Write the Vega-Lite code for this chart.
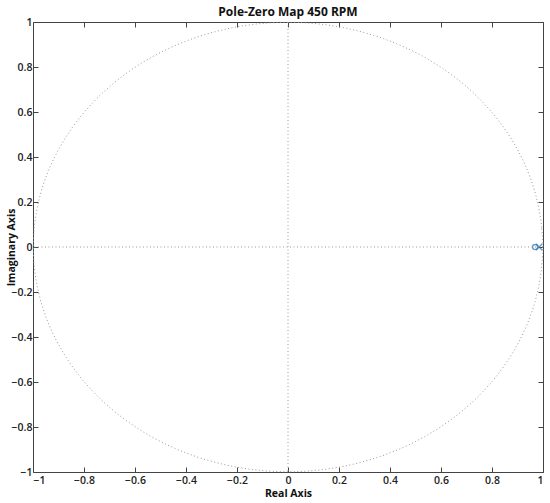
{
  "$schema": "https://vega.github.io/schema/vega-lite/v6.json",
  "width": 510,
  "height": 450,
  "autosize": {"type": "none"},
  "padding": {"left": 33, "top": 22, "right": 7, "bottom": 31},
  "background": "white",
  "title": {"text": "Pole-Zero Map 450 RPM", "font": "Open Sans", "fontSize": 12, "fontWeight": "bold", "color": "#111", "offset": -2},
  "config": {
    "view": {"stroke": "#444", "strokeWidth": 1},
    "axis": {"grid": false, "domain": false, "tickSize": -5, "tickColor": "#444", "labelFont": "Open Sans", "labelFontSize": 10.5, "labelFontWeight": 600, "labelColor": "#222", "titleFont": "Open Sans", "titleFontSize": 10.5, "titleFontWeight": "bold", "titleColor": "#111"}
  },
  "datasets": {
    "circle": [
      {"i":0,"x":1,"y":0},{"i":1,"x":0.9962,"y":0.0872},{"i":2,"x":0.9848,"y":0.1736},{"i":3,"x":0.9659,"y":0.2588},{"i":4,"x":0.9397,"y":0.342},{"i":5,"x":0.9063,"y":0.4226},{"i":6,"x":0.866,"y":0.5},{"i":7,"x":0.8192,"y":0.5736},{"i":8,"x":0.766,"y":0.6428},{"i":9,"x":0.7071,"y":0.7071},{"i":10,"x":0.6428,"y":0.766},{"i":11,"x":0.5736,"y":0.8192},{"i":12,"x":0.5,"y":0.866},{"i":13,"x":0.4226,"y":0.9063},{"i":14,"x":0.342,"y":0.9397},{"i":15,"x":0.2588,"y":0.9659},{"i":16,"x":0.1736,"y":0.9848},{"i":17,"x":0.0872,"y":0.9962},{"i":18,"x":0,"y":1},
      {"i":19,"x":-0.0872,"y":0.9962},{"i":20,"x":-0.1736,"y":0.9848},{"i":21,"x":-0.2588,"y":0.9659},{"i":22,"x":-0.342,"y":0.9397},{"i":23,"x":-0.4226,"y":0.9063},{"i":24,"x":-0.5,"y":0.866},{"i":25,"x":-0.5736,"y":0.8192},{"i":26,"x":-0.6428,"y":0.766},{"i":27,"x":-0.7071,"y":0.7071},{"i":28,"x":-0.766,"y":0.6428},{"i":29,"x":-0.8192,"y":0.5736},{"i":30,"x":-0.866,"y":0.5},{"i":31,"x":-0.9063,"y":0.4226},{"i":32,"x":-0.9397,"y":0.342},{"i":33,"x":-0.9659,"y":0.2588},{"i":34,"x":-0.9848,"y":0.1736},{"i":35,"x":-0.9962,"y":0.0872},{"i":36,"x":-1,"y":0},
      {"i":37,"x":-0.9962,"y":-0.0872},{"i":38,"x":-0.9848,"y":-0.1736},{"i":39,"x":-0.9659,"y":-0.2588},{"i":40,"x":-0.9397,"y":-0.342},{"i":41,"x":-0.9063,"y":-0.4226},{"i":42,"x":-0.866,"y":-0.5},{"i":43,"x":-0.8192,"y":-0.5736},{"i":44,"x":-0.766,"y":-0.6428},{"i":45,"x":-0.7071,"y":-0.7071},{"i":46,"x":-0.6428,"y":-0.766},{"i":47,"x":-0.5736,"y":-0.8192},{"i":48,"x":-0.5,"y":-0.866},{"i":49,"x":-0.4226,"y":-0.9063},{"i":50,"x":-0.342,"y":-0.9397},{"i":51,"x":-0.2588,"y":-0.9659},{"i":52,"x":-0.1736,"y":-0.9848},{"i":53,"x":-0.0872,"y":-0.9962},{"i":54,"x":0,"y":-1},
      {"i":55,"x":0.0872,"y":-0.9962},{"i":56,"x":0.1736,"y":-0.9848},{"i":57,"x":0.2588,"y":-0.9659},{"i":58,"x":0.342,"y":-0.9397},{"i":59,"x":0.4226,"y":-0.9063},{"i":60,"x":0.5,"y":-0.866},{"i":61,"x":0.5736,"y":-0.8192},{"i":62,"x":0.6428,"y":-0.766},{"i":63,"x":0.7071,"y":-0.7071},{"i":64,"x":0.766,"y":-0.6428},{"i":65,"x":0.8192,"y":-0.5736},{"i":66,"x":0.866,"y":-0.5},{"i":67,"x":0.9063,"y":-0.4226},{"i":68,"x":0.9397,"y":-0.342},{"i":69,"x":0.9659,"y":-0.2588},{"i":70,"x":0.9848,"y":-0.1736},{"i":71,"x":0.9962,"y":-0.0872},{"i":72,"x":1,"y":0}
    ],
    "pz": [
      {"kind":"zero","x":0.969,"y":0},
      {"kind":"pole","x":0.985,"y":0}
    ]
  },
  "resolve": {"axis": {"x": "independent", "y": "independent"}},
  "layer": [
    {
      "data": {"name": "circle"},
      "mark": {"type": "line", "stroke": "#999", "strokeWidth": 1, "strokeDash": [1, 2.5], "interpolate": "basis-closed"},
      "encoding": {
        "x": {"field": "x", "type": "quantitative", "scale": {"domain": [-1, 1], "nice": false, "zero": false}, "axis": {"orient": "bottom", "title": "Real Axis", "values": [-1,-0.8,-0.6,-0.4,-0.2,0,0.2,0.4,0.6,0.8,1], "format": "~g", "labelPadding": 8, "titleY": 16, "titleBaseline": "top"}},
        "y": {"field": "y", "type": "quantitative", "scale": {"domain": [-1, 1], "nice": false, "zero": false}, "axis": {"orient": "left", "title": "Imaginary Axis", "values": [-1,-0.8,-0.6,-0.4,-0.2,0,0.2,0.4,0.6,0.8,1], "format": "~g", "labelPadding": 6, "titleX": -22, "titleY": 225, "titleAlign": "center", "titleBaseline": "middle", "titleAngle": -90}},
        "order": {"field": "i", "type": "quantitative"}
      }
    },
    {
      "data": {"values": [{"v": 0}]},
      "mark": {"type": "rule", "stroke": "#999", "strokeWidth": 1, "strokeDash": [1, 2.5]},
      "encoding": {
        "x": {"field": "v", "type": "quantitative", "axis": {"orient": "top", "title": null, "labels": false, "values": [-1,-0.8,-0.6,-0.4,-0.2,0,0.2,0.4,0.6,0.8,1]}}
      }
    },
    {
      "data": {"values": [{"v": 0}]},
      "mark": {"type": "rule", "stroke": "#999", "strokeWidth": 1, "strokeDash": [1, 2.5]},
      "encoding": {
        "y": {"field": "v", "type": "quantitative", "axis": {"orient": "right", "title": null, "labels": false, "values": [-1,-0.8,-0.6,-0.4,-0.2,0,0.2,0.4,0.6,0.8,1]}}
      }
    },
    {
      "data": {"name": "pz"},
      "mark": {"type": "point", "filled": false, "strokeWidth": 1.4},
      "encoding": {
        "x": {"field": "x", "type": "quantitative", "axis": null},
        "y": {"field": "y", "type": "quantitative", "axis": null},
        "shape": {"field": "kind", "type": "nominal", "scale": {"domain": ["zero", "pole"], "range": ["circle", "M-1,-1L1,1M-1,1L1,-1"]}, "legend": null},
        "size": {"field": "kind", "type": "nominal", "scale": {"domain": ["zero", "pole"], "range": [25, 40]}, "legend": null},
        "color": {"value": "#2e75b6"}
      }
    }
  ]
}
